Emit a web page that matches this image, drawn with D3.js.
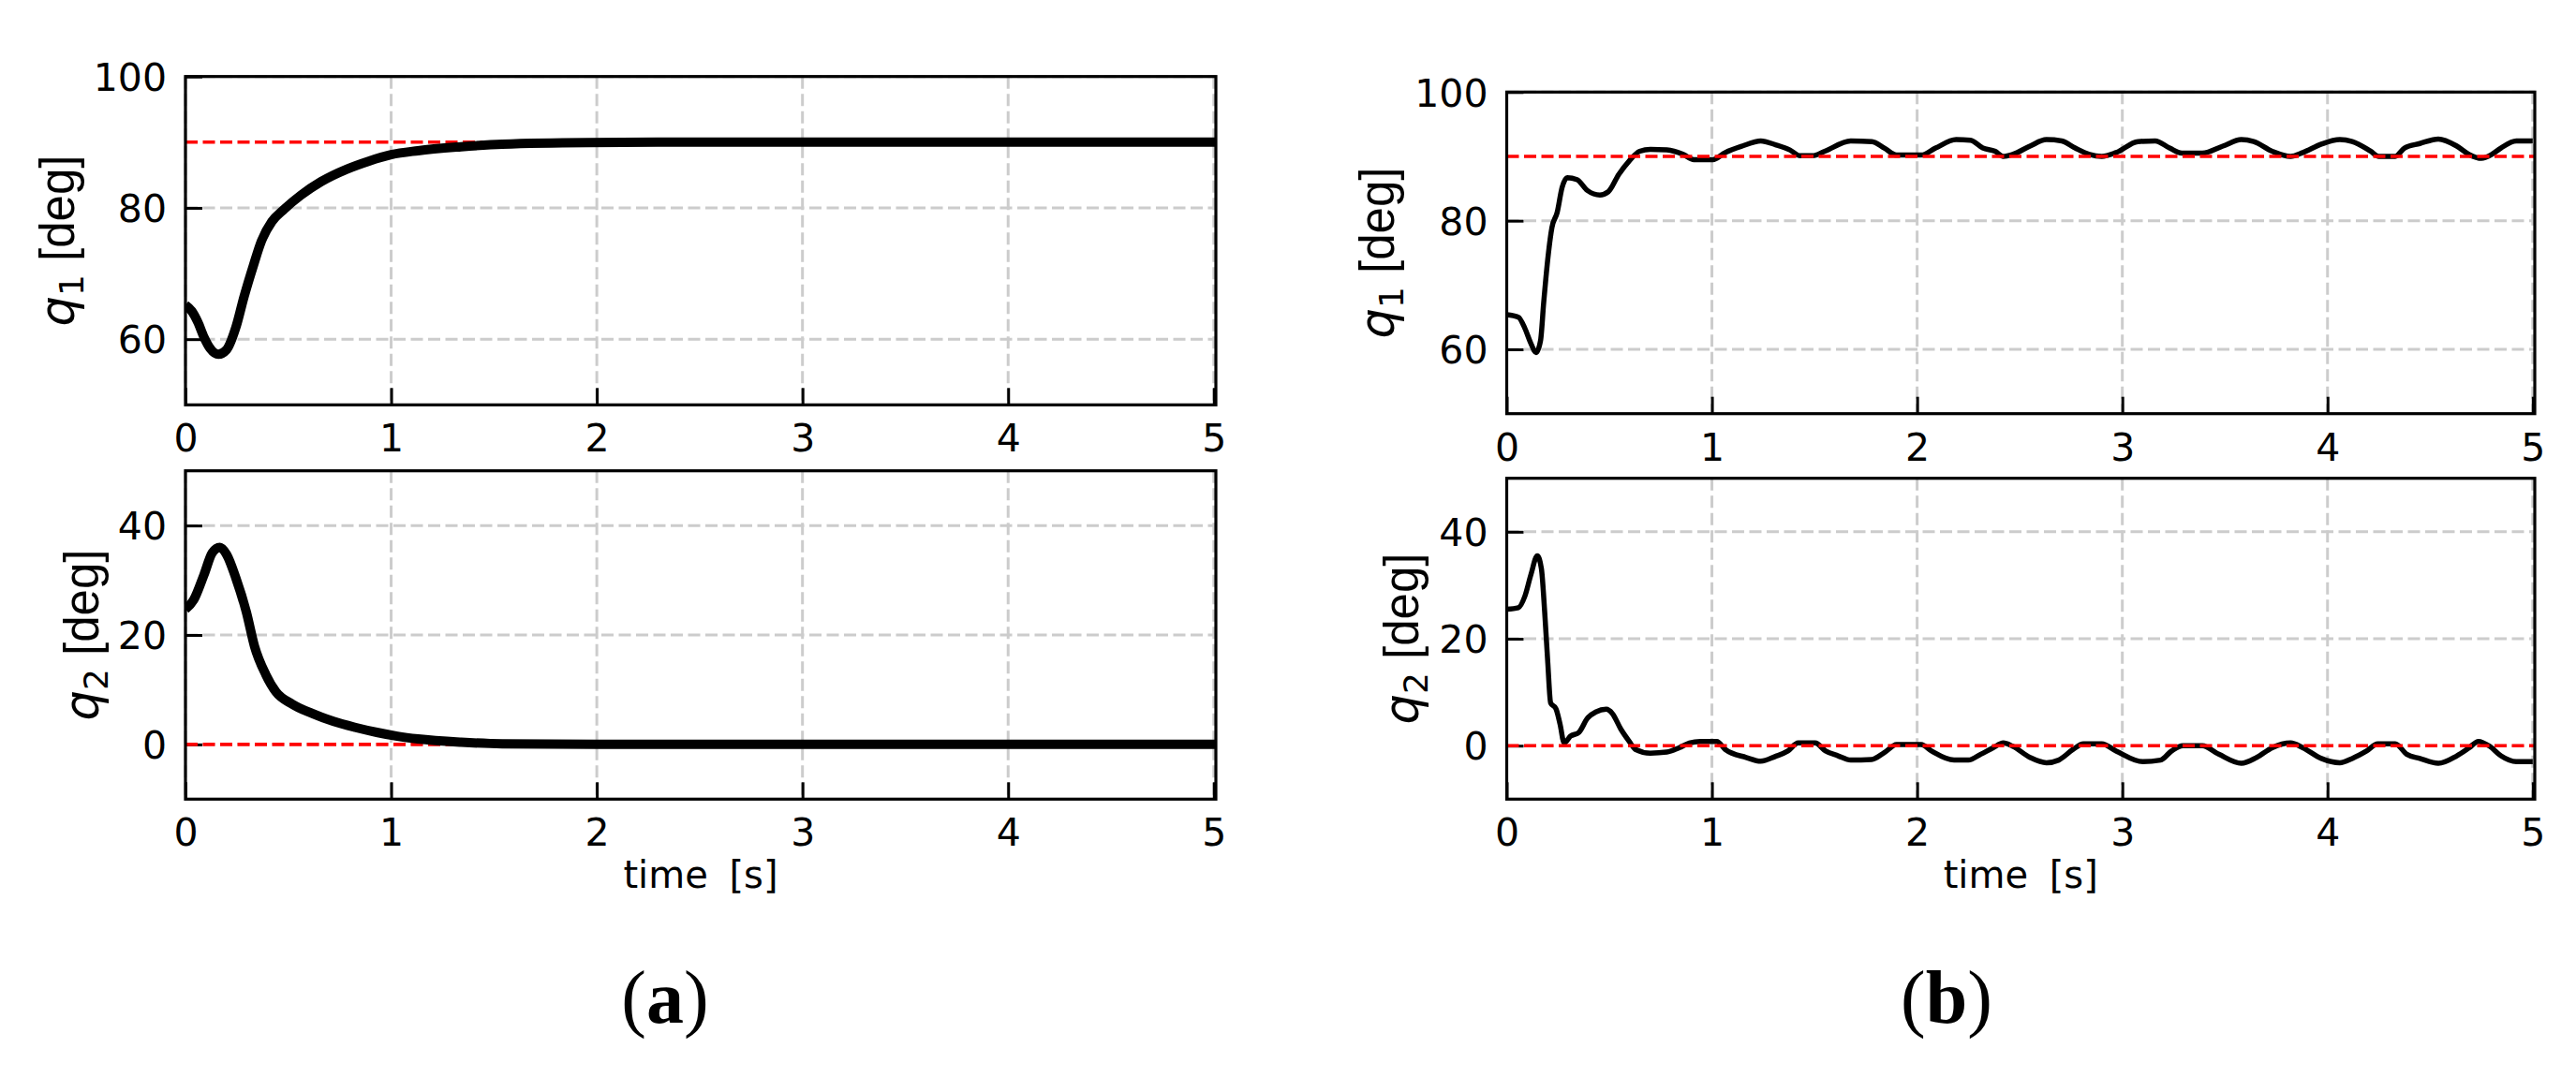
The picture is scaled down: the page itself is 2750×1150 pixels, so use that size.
<!DOCTYPE html>
<html>
<head>
<meta charset="utf-8">
<script src="https://cdn.jsdelivr.net/npm/d3@7"></script>
<style>
  html, body { margin: 0; padding: 0; background: #fff; }
  svg { display: block; }
</style>
</head>
<body>
<svg id="chart" width="2750" height="1150"></svg>
<script>
// ---------------- DATA ----------------
const xTicks = [0, 1, 2, 3, 4, 5];
const q1Ticks = [60, 80, 100];
const q2Ticks = [0, 20, 40];
const q1Ref = 90;
const q2Ref = 0;

// (a) q1 [deg] vs time [s]
const q1A = [[0,65.2],[0.03,64.3],[0.06,62.6],[0.09,60.3],[0.12,58.6],[0.16,57.7],[0.2,58.4],[0.245,61.8],[0.285,66.5],[0.33,71.2],[0.37,75],[0.42,77.9],[0.48,79.8],[0.56,81.9],[0.66,84],[0.785,85.9],[0.89,87.1],[1.0,88.1],[1.13,88.7],[1.34,89.3],[1.54,89.7],[1.95,89.95],[2.5,90],[3,90],[4,90],[5.01,90]];
// (a) q2 [deg] vs time [s]
const q2A = [[0,24.7],[0.04,26.4],[0.09,31],[0.13,35],[0.167,36],[0.2,34.7],[0.245,30.4],[0.296,24.2],[0.336,17.9],[0.39,12.8],[0.44,9.6],[0.52,7.35],[0.62,5.6],[0.72,4.2],[0.826,3.1],[0.93,2.2],[1.03,1.5],[1.13,1.0],[1.34,0.4],[1.54,0.1],[2,0],[3,0],[5.01,0]];
// (b) q1 [deg] vs time [s]
const q1B = [[0,65.4],[0.057,65],[0.088,63.3],[0.118,60.9],[0.143,59.5],[0.165,61.4],[0.18,67.2],[0.2,74],[0.22,78.9],[0.246,81.3],[0.27,85.2],[0.295,86.7],[0.342,86.4],[0.393,84.7],[0.454,84],[0.495,84.5],[0.546,87.2],[0.597,89.3],[0.648,90.8],[0.7,91.1],[0.78,91],[0.86,90.3],[0.912,89.5],[1.004,89.5],[1.065,90.6],[1.147,91.6],[1.238,92.4],[1.31,91.8],[1.38,91],[1.43,90.1],[1.49,90.1],[1.55,90.8],[1.676,92.4],[1.78,92.3],[1.84,91.3],[1.9,90.2],[2.02,90.2],[2.09,91.3],[2.19,92.6],[2.26,92.5],[2.32,91.3],[2.38,90.8],[2.42,90],[2.465,90.3],[2.55,91.6],[2.63,92.6],[2.705,92.4],[2.77,91.3],[2.84,90.3],[2.9,90],[2.97,90.6],[3.076,92.3],[3.16,92.4],[3.23,91.3],[3.29,90.5],[3.39,90.5],[3.49,91.6],[3.58,92.6],[3.64,92.3],[3.73,90.8],[3.82,90],[3.88,90.6],[3.97,91.9],[4.06,92.6],[4.12,92.3],[4.21,90.8],[4.25,90],[4.33,90],[4.375,91.3],[4.45,92],[4.54,92.7],[4.63,91.6],[4.69,90.3],[4.75,89.7],[4.8,90.3],[4.845,91.3],[4.92,92.4],[5.0,92.4]];
// (b) q2 [deg] vs time [s]
const q2B = [[0,25.5],[0.057,25.8],[0.088,27.9],[0.118,32],[0.149,35.5],[0.169,33.1],[0.185,25],[0.2,15.6],[0.214,8],[0.24,6.9],[0.26,4],[0.28,0.5],[0.31,1.75],[0.352,2.5],[0.393,5.1],[0.434,6.3],[0.485,6.8],[0.515,6],[0.556,3.1],[0.597,0.8],[0.627,-0.7],[0.7,-1.4],[0.78,-1.2],[0.84,-0.4],[0.89,0.5],[0.943,0.8],[1.024,0.8],[1.065,-0.7],[1.167,-2.2],[1.238,-2.9],[1.31,-2],[1.37,-1],[1.42,0.5],[1.503,0.5],[1.554,-1],[1.615,-1.9],[1.676,-2.7],[1.778,-2.6],[1.84,-1.3],[1.9,0.2],[2.02,0.2],[2.07,-1],[2.18,-2.7],[2.25,-2.7],[2.31,-1.6],[2.37,-0.4],[2.42,0.5],[2.465,-0.1],[2.55,-2.2],[2.63,-3.2],[2.69,-2.7],[2.76,-0.7],[2.81,0.35],[2.9,0.35],[2.97,-1],[3.1,-3],[3.186,-2.7],[3.24,-1],[3.295,0],[3.39,0],[3.47,-1.6],[3.58,-3.3],[3.655,-2.2],[3.73,-0.4],[3.82,0.5],[3.88,-0.4],[3.97,-2.4],[4.06,-3.2],[4.12,-2.4],[4.19,-1],[4.245,0.35],[4.33,0.35],[4.386,-1.6],[4.45,-2.4],[4.54,-3.3],[4.63,-1.9],[4.69,-0.4],[4.735,0.8],[4.79,-0.1],[4.845,-1.9],[4.92,-3],[5.0,-3]];

// ---------------- LAYOUT ----------------
const svg = d3.select("#chart");
const TICK_FONT = "DejaVu Sans";
const LABEL_FONT = "Liberation Sans, Arial, sans-serif";

const panels = [
  { L: 198, R: 1298, T: 81.7, B: 432.3, xd: [0, 5.01], yd: [50, 100], yt: q1Ticks, data: q1A, ref: q1Ref, lw: 10, refTop: false, sub: "1", labX: 79, xlabel: false },
  { L: 198, R: 1298, T: 502.7, B: 853.3, xd: [0, 5.01], yd: [-10, 50], yt: q2Ticks, data: q2A, ref: q2Ref, lw: 10, refTop: false, sub: "2", labX: 105, xlabel: true },
  { L: 1608.5, R: 2706, T: 98.3, B: 441.7, xd: [0, 5.01], yd: [50, 100], yt: q1Ticks, data: q1B, ref: q1Ref, lw: 5.5, refTop: true, sub: "1", labX: 1488, xlabel: false },
  { L: 1608.5, R: 2706, T: 510.7, B: 853.3, xd: [0, 5.01], yd: [-10, 50], yt: q2Ticks, data: q2B, ref: q2Ref, lw: 5.5, refTop: true, sub: "2", labX: 1514, xlabel: true }
];

panels.forEach((p, i) => {
  const x = d3.scaleLinear().domain(p.xd).range([p.L, p.R]);
  const y = d3.scaleLinear().domain(p.yd).range([p.B, p.T]);
  const g = svg.append("g");

  const clipId = "clip" + i;
  svg.append("defs").append("clipPath").attr("id", clipId)
    .append("rect").attr("x", p.L).attr("y", p.T).attr("width", p.R - p.L).attr("height", p.B - p.T);

  // grid
  const grid = g.append("g").attr("stroke", "#cccccc").attr("stroke-width", 3).attr("stroke-dasharray", "13,5.5");
  grid.selectAll(".vx").data(xTicks).join("line")
    .attr("x1", d => x(d)).attr("x2", d => x(d)).attr("y1", p.T).attr("y2", p.B);
  grid.selectAll(".hy").data(p.yt).join("line")
    .attr("x1", p.L).attr("x2", p.R).attr("y1", d => y(d)).attr("y2", d => y(d));

  const line = d3.line().x(d => x(d[0])).y(d => y(d[1])).curve(d3.curveMonotoneX);

  const drawRef = () => g.append("line")
    .attr("x1", p.L).attr("x2", p.R).attr("y1", y(p.ref)).attr("y2", y(p.ref))
    .attr("stroke", "#ff0000").attr("stroke-width", 3.6).attr("stroke-dasharray", "13,5.5");

  // axes (inward ticks)
  const xa = g.append("g").attr("transform", `translate(0,${p.B})`)
    .call(d3.axisBottom(x).tickValues(xTicks).tickSizeInner(-18).tickSizeOuter(0).tickPadding(21).tickFormat(d3.format("d")));
  const ya = g.append("g").attr("transform", `translate(${p.L},0)`)
    .call(d3.axisLeft(y).tickValues(p.yt).tickSizeInner(-18).tickSizeOuter(0).tickPadding(20).tickFormat(d3.format("d")));
  [xa, ya].forEach(a => {
    a.select(".domain").remove();
    a.selectAll(".tick line").attr("stroke", "#000").attr("stroke-width", 3);
    a.selectAll(".tick text").attr("fill", "#000").style("font-family", TICK_FONT).style("font-size", "41px");
  });
  ya.selectAll(".tick text").attr("dy", "0.36em");

  if (!p.refTop) drawRef();
  g.append("path").datum(p.data)
    .attr("clip-path", `url(#${clipId})`)
    .attr("fill", "none").attr("stroke", "#000").attr("stroke-width", p.lw)
    .attr("stroke-linejoin", "round").attr("stroke-linecap", "butt")
    .attr("d", line);
  if (p.refTop) drawRef();

  // border
  g.append("rect").attr("x", p.L).attr("y", p.T).attr("width", p.R - p.L).attr("height", p.B - p.T)
    .attr("fill", "none").attr("stroke", "#000").attr("stroke-width", 3.2);

  // y label
  const cy = (p.T + p.B) / 2;
  const yl = g.append("text")
    .attr("transform", `translate(${p.labX},${cy}) rotate(-90)`)
    .attr("text-anchor", "middle").attr("fill", "#000")
    .style("font-size", "51px");
  yl.append("tspan").text("q").style("font-family", "DejaVu Sans").style("font-style", "italic");
  yl.append("tspan").text(p.sub).attr("dy", 10).style("font-family", "DejaVu Sans").style("font-size", "36px");
  yl.append("tspan").text("\u00a0[deg]").attr("dy", -10).style("font-family", LABEL_FONT);

  if (p.xlabel) {
    g.append("text").attr("x", (p.L + p.R) / 2).attr("y", 948)
      .attr("text-anchor", "middle").attr("fill", "#000")
      .style("font-family", "DejaVu Sans").style("font-size", "40px").style("word-spacing", "10px")
      .text("time [s]");
  }
});

// sub-figure captions
[["a", 710], ["b", 2078]].forEach(([c, cx]) => {
  const t = svg.append("text").attr("x", cx).attr("y", 1092).attr("text-anchor", "middle")
    .attr("fill", "#000").style("font-family", "Liberation Serif, Times New Roman, serif").style("font-size", "80px");
  t.append("tspan").text("(");
  t.append("tspan").text(c).style("font-weight", "bold");
  t.append("tspan").text(")");
});
</script>
</body>
</html>
